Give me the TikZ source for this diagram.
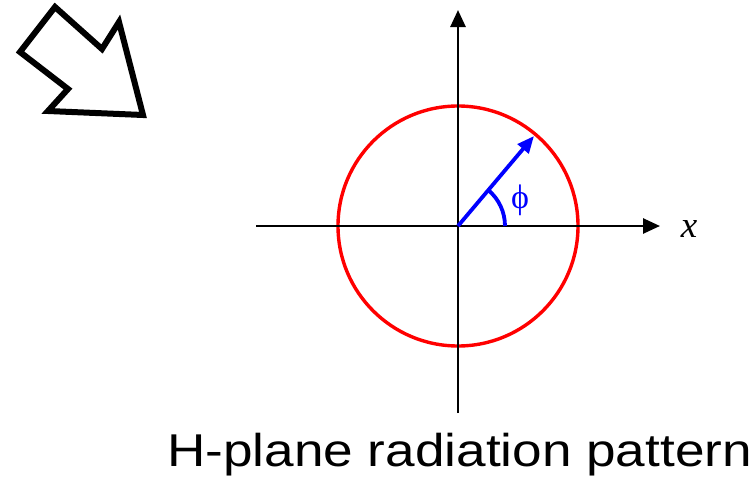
\documentclass[tikz,border=0pt]{standalone}
\usepackage{fontspec}
\setmainfont{Liberation Serif}
\newfontfamily\arialfont{Liberation Sans}
\usetikzlibrary{arrows.meta}
\begin{document}
\begin{tikzpicture}[x=1pt,y=-1pt,
  axis/.style={line width=2.7pt,-{Triangle[length=17pt,width=15pt]}},
  pattern/.style={draw=red,line width=3.4pt},
  vec/.style={draw=blue,line width=3.8pt,-{Triangle[length=17pt,width=14pt]}},
  bigarrow/.style={draw=black,line width=6pt,line join=miter,fill=white}]
\useasboundingbox (0,0) rectangle (755,482);
\coordinate (O) at (458,226);
\coordinate (xs) at (256,226);
\coordinate (xe) at (660,226);
\coordinate (ys) at (458,413);
\coordinate (ye) at (458,10);
\coordinate (vt) at (534,136);
% big hollow arrow
\draw[bigarrow] (55,7) -- (102,49) -- (119,22) -- (143,115) -- (48,111) -- (68,89) -- (20,52) -- cycle;
% pattern circle
\draw[pattern] (O) circle[radius=120];
% axes
\draw[axis] (xs) -- (xe);
\draw[axis] (ys) -- (ye);
\node[anchor=center,font=\fontsize{37}{40}\selectfont\itshape,inner sep=0pt] (xl) at (689,229) {x};
% vector
\draw[vec] (O) -- (vt);
\draw[blue,line width=3.8pt] ([xshift=47pt]O) arc[start angle=0,end angle=-50,radius=47];
\node[text=blue,font=\fontsize{34}{38}\selectfont,inner sep=0pt] (phi) at (520,200) {ϕ};
% title
\node[anchor=base west,inner sep=0pt,font=\arialfont\fontsize{46}{50}\selectfont] (title) at (167,466) {\scalebox{1.155}[1]{H-plane radiation pattern}};
\end{tikzpicture}
\end{document}
